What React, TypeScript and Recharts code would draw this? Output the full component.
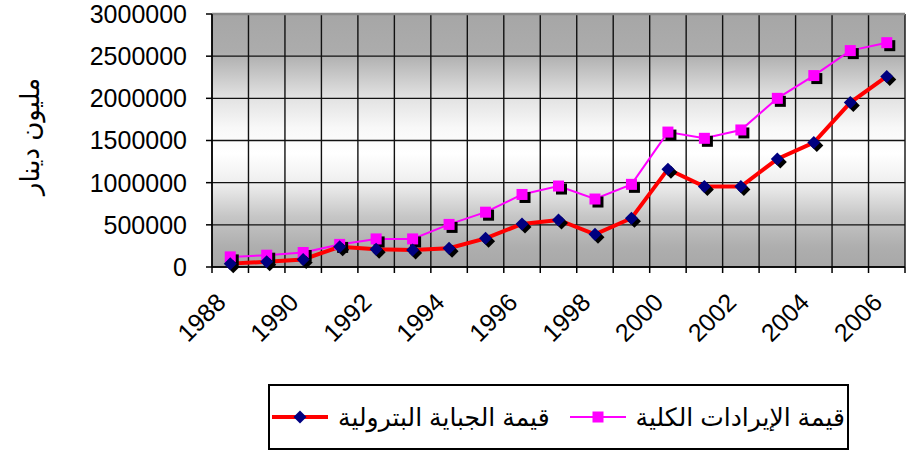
import React from "react";
import {
  LineChart,
  Line,
  XAxis,
  YAxis,
  CartesianGrid,
  ReferenceLine,
  Label,
} from "recharts";

const years = [
  1988, 1989, 1990, 1991, 1992, 1993, 1994, 1995, 1996, 1997, 1998, 1999,
  2000, 2001, 2002, 2003, 2004, 2005, 2006,
];
const totalRevenue = [
  120000, 140000, 172000, 268000, 333000, 333000, 505000, 650000, 860000,
  960000, 806000, 980000, 1600000, 1526000, 1625000, 2000000, 2270000,
  2566000, 2660000,
];
const oilTax = [
  40000, 62000, 90000, 240000, 210000, 202000, 222000, 340000, 510000,
  558000, 388000, 578000, 1160000, 954000, 954000, 1280000, 1476000, 1950000,
  2260000,
];
const yTicks = [0, 500000, 1000000, 1500000, 2000000, 2500000, 3000000];
const labelYears = [1988, 1990, 1992, 1994, 1996, 1998, 2000, 2002, 2004, 2006];
const revenueName = "قيمة الإيرادات الكلية";
const oilName = "قيمة الجباية البترولية";
const axisTitle = "مليون دينار";

const FONT = "'Liberation Sans', Arial, 'DejaVu Sans', sans-serif";

const data = years.map((year, i) => ({
  year,
  revenue: totalRevenue[i],
  oil: oilTax[i],
}));

// category boundaries, so the grid sits between the years
const xDomain: [number, number] = [years[0] - 0.5, years[years.length - 1] + 0.5];
const gridTicks = [...years.map((y) => y - 0.5), xDomain[1]];

function SquareDot(props: any) {
  const { cx, cy, index } = props;
  if (cx == null || cy == null) return null;
  return (
    <g key={`sq-${index}`}>
      <rect x={cx - 5.5 + 3} y={cy - 5.5 + 3} width={11} height={11} fill="#000" />
      <rect x={cx - 5.5} y={cy - 5.5} width={11} height={11} fill="#ff00ff" />
    </g>
  );
}

function DiamondDot(props: any) {
  const { cx, cy, index } = props;
  if (cx == null || cy == null) return null;
  const r = 6.5;
  const d = (x: number, y: number) =>
    `M${x},${y - r}L${x + r},${y}L${x},${y + r}L${x - r},${y}Z`;
  return (
    <g key={`dm-${index}`}>
      <path d={d(cx + 3, cy + 3)} fill="#000" />
      <path d={d(cx, cy)} fill="#000080" />
    </g>
  );
}

function EmptyTick() {
  return <g />;
}

function YearTick(props: any) {
  const { x, y, payload } = props;
  return (
    <text
      x={0}
      y={0}
      transform={`translate(${x - 3},${y + 27}) rotate(-45)`}
      textAnchor="end"
      fontSize={25}
      fontFamily={FONT}
      fill="#000"
    >
      {payload.value}
    </text>
  );
}

function gridX(p: any): number[] {
  const s = p?.xAxis?.scale;
  if (typeof s === "function") return gridTicks.map((t) => s(t));
  if (s && typeof s.map === "function") return gridTicks.map((t) => s.map(t));
  const off = p?.offset || { left: 212, width: 693 };
  return gridTicks.map(
    (t) => off.left + ((t - xDomain[0]) / (xDomain[1] - xDomain[0])) * off.width
  );
}

function LegendItem({ name, kind }: { name: string; kind: "square" | "diamond" }) {
  return (
    <div style={{ display: "flex", alignItems: "center", gap: 10 }}>
      <span>{name}</span>
      <svg width={56} height={20}>
        {kind === "square" ? (
          <>
            <line x1={0} y1={10} x2={56} y2={10} stroke="#ff00ff" strokeWidth={2} />
            <rect x={22.5} y={4.5} width={11} height={11} fill="#ff00ff" />
          </>
        ) : (
          <>
            <line x1={0} y1={10} x2={56} y2={10} stroke="#ff0000" strokeWidth={4} />
            <path d="M28,3.5L34.5,10L28,16.5L21.5,10Z" fill="#000080" />
          </>
        )}
      </svg>
    </div>
  );
}

export default function App() {
  return (
    <div
      style={{
        position: "absolute",
        left: 0,
        top: 0,
        width: 906,
        height: 454,
        background: "#fff",
        fontFamily: FONT,
      }}
    >
      <LineChart
        width={906}
        height={454}
        data={data}
        margin={{ top: 14, right: 1, bottom: 0, left: 0 }}
      >
        <defs>
          <linearGradient id="plotBg" x1="0" y1="0" x2="0" y2="1">
            <stop offset="0%" stopColor="#a6a6a6" />
            <stop offset="15%" stopColor="#acacac" />
            <stop offset="33%" stopColor="#e2e2e2" />
            <stop offset="45%" stopColor="#f8f8f8" />
            <stop offset="55%" stopColor="#ffffff" />
            <stop offset="67%" stopColor="#eeeeee" />
            <stop offset="80%" stopColor="#c6c6c6" />
            <stop offset="92%" stopColor="#aeaeae" />
            <stop offset="100%" stopColor="#a8a8a8" />
          </linearGradient>
        </defs>
        <CartesianGrid
          fill="url(#plotBg)"
          stroke="#111"
          strokeWidth={1.4}
          fillOpacity={1}
          verticalCoordinatesGenerator={gridX}
        />
        <XAxis
          dataKey="year"
          type="number"
          domain={xDomain}
          ticks={gridTicks}
          interval={0}
          tick={<EmptyTick />}
          tickSize={6}
          height={8}
          axisLine={{ stroke: "#000", strokeWidth: 1.5 }}
          tickLine={{ stroke: "#000", strokeWidth: 1.5 }}
        />
        <XAxis
          xAxisId="lab"
          dataKey="year"
          type="number"
          domain={xDomain}
          ticks={labelYears}
          interval={0}
          axisLine={false}
          tickLine={false}
          tickSize={0}
          tick={<YearTick />}
          height={179}
        />
        <YAxis
          domain={[0, 3000000]}
          ticks={yTicks}
          interval={0}
          width={212}
          tickSize={6}
          tickMargin={19}
          axisLine={{ stroke: "#000", strokeWidth: 1.5 }}
          tickLine={{ stroke: "#000", strokeWidth: 1.5 }}
          tick={{ fill: "#000", fontSize: 25, fontFamily: FONT }}
        >
          <Label
            content={(p: any) => {
              const vb = p.viewBox || { x: 0, y: 14, height: 253 };
              const cx = vb.x + 30;
              const cy = vb.y + vb.height / 2 - 4;
              return (
                <text
                  x={cx}
                  y={cy}
                  transform={`rotate(-90, ${cx}, ${cy})`}
                  textAnchor="middle"
                  dominantBaseline="central"
                  fontSize={26}
                  fontFamily={FONT}
                  fill="#000"
                >
                  {axisTitle}
                </text>
              );
            }}
          />
        </YAxis>
        <ReferenceLine y={3000000} stroke="#8a8a8a" strokeWidth={2.5} />
        <Line
          dataKey="revenue"
          name={revenueName}
          stroke="#ff00ff"
          strokeWidth={2}
          dot={<SquareDot />}
          activeDot={false}
          isAnimationActive={false}
        />
        <Line
          dataKey="oil"
          name={oilName}
          stroke="#ff0000"
          strokeWidth={4}
          dot={<DiamondDot />}
          activeDot={false}
          isAnimationActive={false}
        />
      </LineChart>
      <div
        style={{
          position: "absolute",
          left: 268,
          top: 384,
          width: 581,
          height: 66,
          border: "2px solid #000",
          boxSizing: "border-box",
          display: "flex",
          direction: "rtl",
          alignItems: "center",
          justifyContent: "center",
          gap: 20,
          fontSize: 25,
          color: "#000",
        }}
      >
        <LegendItem name={revenueName} kind="square" />
        <LegendItem name={oilName} kind="diamond" />
      </div>
    </div>
  );
}
